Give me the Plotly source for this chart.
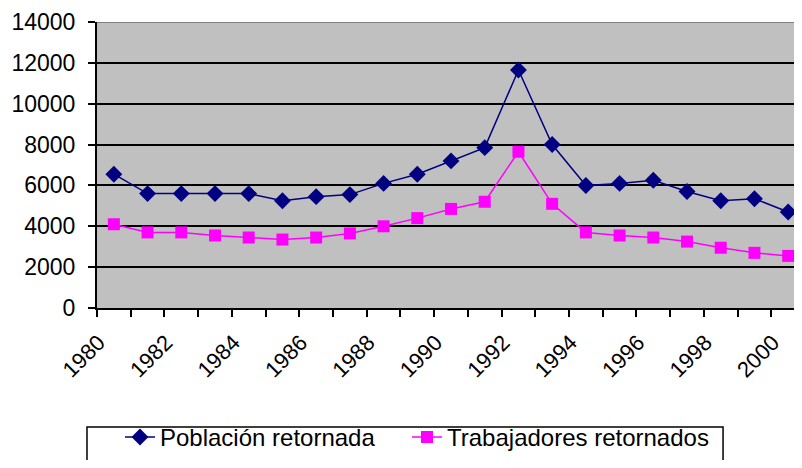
import plotly.graph_objects as go

# Años y series
years = list(range(1980, 2001))
poblacion = [6550, 5600, 5600, 5600, 5600, 5250, 5450, 5550, 6100, 6550, 7200,
             7850, 11650, 8000, 6000, 6100, 6250, 5700, 5250, 5350, 4700]
trabajadores = [4100, 3700, 3700, 3550, 3450, 3350, 3450, 3650, 4000, 4400, 4850,
                5200, 7650, 5100, 3700, 3550, 3450, 3250, 2950, 2700, 2550]
tick_years = list(range(1980, 2001, 2))
tick_text = [str(y) for y in tick_years]

fig = go.Figure()
fig.add_trace(go.Scatter(
    x=years, y=poblacion, name="Población retornada", mode="lines+markers",
    line=dict(color="#000080", width=1.5),
    marker=dict(symbol="diamond", size=13, color="#000080"),
    legend="legend",
))
fig.add_trace(go.Scatter(
    x=years, y=trabajadores, name="Trabajadores retornados", mode="lines+markers",
    line=dict(color="#FF00FF", width=1.5),
    marker=dict(symbol="square", size=12, color="#FF00FF"),
    legend="legend2",
))

font = "Liberation Sans, Arial, sans-serif"

fig.update_xaxes(
    range=[1979.5, 2000.41], automargin=False,
    tickmode="array", tickvals=[y - 0.45 for y in tick_years], ticktext=tick_text,
    tickangle=-45, ticks="", showgrid=False, ticklabelstandoff=11,
    showline=True, linecolor="black", linewidth=2,
    tickfont=dict(family=font, size=22, color="black"),
    minor=dict(tickmode="array", tickvals=[y - 0.5 for y in years] + [2000.5],
               ticks="outside", ticklen=7, tickcolor="black", tickwidth=2,
               showgrid=False),
)
fig.update_yaxes(
    range=[0, 14000], tickmode="linear", tick0=0, dtick=2000, tickformat="d",
    automargin=False,
    showgrid=True, gridcolor="black", gridwidth=2,
    showline=True, linecolor="black", linewidth=2,
    ticks="outside", ticklen=7, tickcolor="black", tickwidth=2,
    ticklabelstandoff=8,
    tickfont=dict(family=font, size=23, color="black"),
    zeroline=False,
)

# borde superior gris del área de trazado
fig.add_shape(type="line", xref="paper", yref="y", x0=0, x1=1, y0=14000, y1=14000,
              line=dict(color="#808080", width=2))
# recuadro de la leyenda
fig.add_shape(type="rect", xref="paper", yref="paper",
              x0=-0.0142, x1=0.888, y0=-0.416, y1=-0.65,
              line=dict(color="black", width=1.5), fillcolor="rgba(0,0,0,0)")

legend_style = dict(
    orientation="h", xanchor="left", y=-0.531, yanchor="bottom",
    borderwidth=0, bgcolor="rgba(0,0,0,0)",
    font=dict(family=font, size=24, color="black"),
)

fig.update_layout(
    width=794, height=452,
    margin=dict(l=89, r=0, t=14, b=152, autoexpand=False),
    plot_bgcolor="#C0C0C0", paper_bgcolor="white",
    font=dict(family=font, color="black"),
    showlegend=True,
    legend=dict(x=0.0326, **legend_style),
    legend2=dict(x=0.4397, **legend_style),
)

fig.write_html("out.html")
